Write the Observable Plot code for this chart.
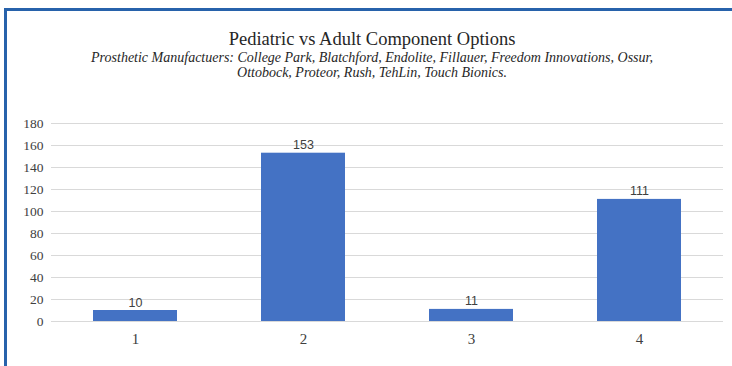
<!DOCTYPE html>
<html>
<head>
<meta charset="utf-8">
<script src="https://cdn.jsdelivr.net/npm/d3@7"></script>
<script src="https://cdn.jsdelivr.net/npm/@observablehq/plot@0.6"></script>
<style>
  html, body { margin: 0; padding: 0; background: #fff; }
  #wrap { position: relative; width: 732px; height: 366px; overflow: hidden; background: #fff; }
  #frame { position: absolute; left: 4px; top: 8px; right: -10px; bottom: -10px;
           border-left: 3px solid #2762ab; border-top: 3px solid #2762ab; pointer-events: none; }
  #head { position: absolute; left: 0; top: 0; width: 732px; height: 100px; }
  #title { position: absolute; left: 0; width: 744px; top: 29px; text-align: center;
           font-family: "Liberation Serif", "Times New Roman", serif; font-size: 18.5px; color: #262626; }
  #sub { position: absolute; left: 0; width: 744px; top: 50px; text-align: center;
         font-family: "Liberation Serif", "Times New Roman", serif; font-style: italic;
         font-size: 14px; line-height: 15px; color: #262626; }
  #chart { position: absolute; left: 0; top: 100px; }
  #chart g[aria-label="y-axis tick label"], #chart g[aria-label="y-axis tick label"] text,
  #chart g[aria-label="x-axis tick label"], #chart g[aria-label="x-axis tick label"] text {
    font-family: "Liberation Serif", "Times New Roman", serif !important;
  }
</style>
</head>
<body>
<div id="wrap">
  <div id="head">
    <div id="title"></div>
    <div id="sub"></div>
  </div>
  <div id="chart"></div>
  <div id="frame"></div>
</div>
<script>
const title = "Pediatric vs Adult Component Options";
const subtitleLines = [
  "Prosthetic Manufactuers: College Park, Blatchford, Endolite, Fillauer, Freedom Innovations, Ossur,",
  "Ottobock, Proteor, Rush, TehLin, Touch Bionics."
];
const categories = ["1", "2", "3", "4"];
const values = [10, 153, 11, 111];
const yTicks = [0, 20, 40, 60, 80, 100, 120, 140, 160, 180];

document.getElementById("title").textContent = title;
document.getElementById("sub").innerHTML = subtitleLines.map(s => s.replace(/&/g, "&amp;")).join("<br>");

const data = categories.map((c, i) => ({category: c, value: values[i]}));

const chart = Plot.plot({
  width: 732,
  height: 266,
  marginLeft: 51,
  marginRight: 9,
  marginTop: 23,
  marginBottom: 45,
  style: {background: "transparent", overflow: "visible"},
  x: {domain: categories, paddingInner: 0.5, paddingOuter: 0.25, label: null},
  y: {domain: [0, 180], label: null},
  marks: [
    Plot.gridY(yTicks, {stroke: "#d9d9d9", strokeOpacity: 1, strokeWidth: 1}),
    Plot.barY(data, {x: "category", y: "value", fill: "#4472c4"}),
    Plot.text(data, {x: "category", y: "value", text: d => String(d.value), dy: -8,
      fontFamily: "Liberation Sans, Arial, sans-serif", fontSize: 12.5, fill: "#404040"}),
    Plot.axisY(yTicks, {tickSize: 0, tickPadding: 8, fontFamily: "Liberation Serif",
      fontSize: 13.5, color: "#404040", label: null}),
    Plot.axisX({tickSize: 0, tickPadding: 12, fontFamily: "Liberation Serif",
      fontSize: 15, color: "#404040", label: null})
  ]
});
document.getElementById("chart").appendChild(chart);
</script>
</body>
</html>
